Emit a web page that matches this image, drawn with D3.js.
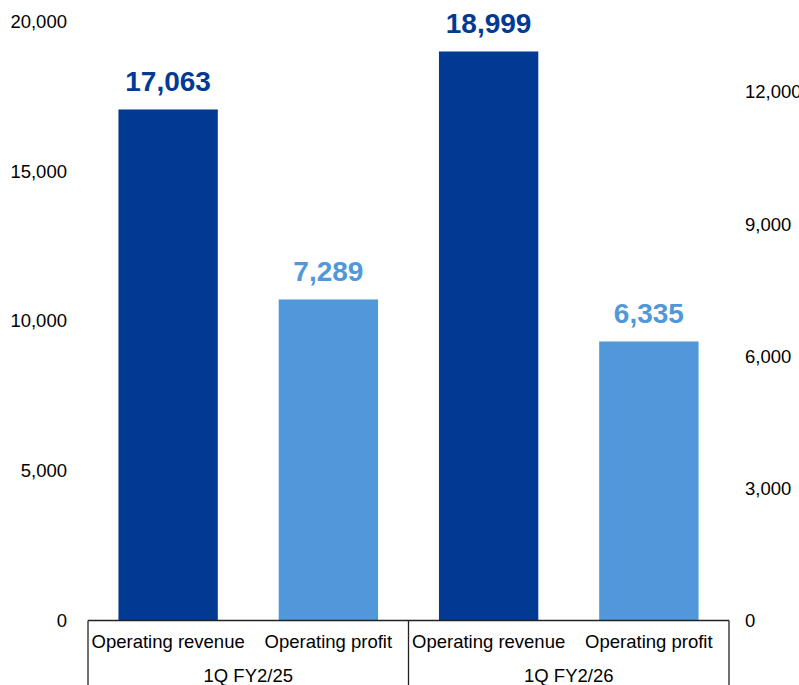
<!DOCTYPE html>
<html>
<head>
<meta charset="utf-8">
<script src="https://cdn.jsdelivr.net/npm/d3@7"></script>
<style>
  html, body { margin: 0; padding: 0; background: #fff; }
  svg { display: block; font-family: "Liberation Sans", Arial, sans-serif; }
</style>
</head>
<body>
<svg id="chart" width="799" height="685"></svg>
<script>
// Quarterly operating revenue (left axis) and operating profit (right axis)
const groups = ["1Q FY2/25", "1Q FY2/26"];
const metrics = ["Operating revenue", "Operating profit"];
const revenue = [17063, 18999];
const profit = [7289, 6335];
const leftTicks = [0, 5000, 10000, 15000, 20000];
const rightTicks = [0, 3000, 6000, 9000, 12000];
const leftMax = 20000;
const rightMax = 13600;

const colors = { "Operating revenue": "#023A93", "Operating profit": "#5198DA" };

const svg = d3.select("#chart");
const plot = { left: 88, right: 729, top: 21.5, bottom: 620.5 };
const labelSize = 18.5;

// one flat row per bar: group, metric, value, axis it belongs to
const rows = [];
groups.forEach((g, i) => {
  rows.push({ group: g, metric: metrics[0], value: revenue[i], axis: "left" });
  rows.push({ group: g, metric: metrics[1], value: profit[i], axis: "right" });
});
rows.forEach((r, i) => r.key = i);

const x = d3.scaleBand()
  .domain(rows.map(r => r.key))
  .range([plot.left, plot.right])
  .paddingInner(0.38)
  .paddingOuter(0.19);

const yL = d3.scaleLinear().domain([0, leftMax]).range([plot.bottom, plot.top]);
const yR = d3.scaleLinear().domain([0, rightMax]).range([plot.bottom, plot.top]);
const yOf = r => r.axis === "left" ? yL : yR;

// value axes: labels only, no lines or tick marks
const fmt = d3.format(",");
const axL = svg.append("g")
  .attr("transform", `translate(${plot.left},0)`)
  .call(d3.axisLeft(yL).tickValues(leftTicks).tickFormat(fmt).tickSize(0).tickPadding(21));
const axR = svg.append("g")
  .attr("transform", `translate(${plot.right},0)`)
  .call(d3.axisRight(yR).tickValues(rightTicks).tickFormat(fmt).tickSize(0).tickPadding(16));
[axL, axR].forEach(a => {
  a.select(".domain").remove();
  a.selectAll("text").attr("font-size", labelSize).attr("fill", "#000")
    .attr("font-family", "'Liberation Sans', Arial, sans-serif");
});

// bars
svg.append("g").selectAll("rect")
  .data(rows)
  .join("rect")
  .attr("x", d => x(d.key))
  .attr("width", x.bandwidth())
  .attr("y", d => yOf(d)(d.value))
  .attr("height", d => plot.bottom - yOf(d)(d.value))
  .attr("fill", d => colors[d.metric]);

// value labels above bars
svg.append("g").selectAll("text")
  .data(rows)
  .join("text")
  .attr("x", d => x(d.key) + x.bandwidth() / 2)
  .attr("y", d => yOf(d)(d.value) - 18.5)
  .attr("text-anchor", "middle")
  .attr("font-size", 28)
  .attr("font-weight", "bold")
  .attr("fill", d => colors[d.metric])
  .text(d => fmt(d.value));

// two-level category axis
const axisColor = "#222";
const step = x.step();
svg.append("line")
  .attr("x1", plot.left).attr("x2", plot.right)
  .attr("y1", plot.bottom).attr("y2", plot.bottom)
  .attr("stroke", axisColor).attr("stroke-width", 1.3);

const groupEdges = groups.map((g, i) => plot.left + i * 2 * step).concat([plot.right]);
svg.append("g").selectAll("line")
  .data(groupEdges)
  .join("line")
  .attr("x1", d => d).attr("x2", d => d)
  .attr("y1", plot.bottom).attr("y2", 690)
  .attr("stroke", axisColor).attr("stroke-width", 1.3);

svg.append("g").selectAll("text")
  .data(rows)
  .join("text")
  .attr("x", d => x(d.key) + x.bandwidth() / 2)
  .attr("y", 648)
  .attr("text-anchor", "middle")
  .attr("font-size", labelSize)
  .attr("fill", "#000")
  .text(d => d.metric);

svg.append("g").selectAll("text")
  .data(groups)
  .join("text")
  .attr("x", (d, i) => (groupEdges[i] + groupEdges[i + 1]) / 2)
  .attr("y", 681.5)
  .attr("text-anchor", "middle")
  .attr("font-size", labelSize)
  .attr("fill", "#000")
  .text(d => d);
</script>
</body>
</html>
